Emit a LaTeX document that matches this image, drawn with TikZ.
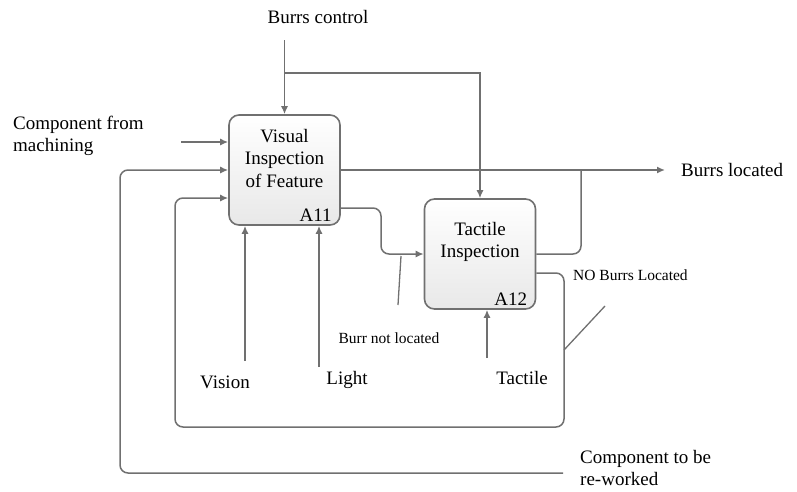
\documentclass[tikz,border=0pt]{standalone}
\usepackage{fontspec}
\setmainfont{Liberation Serif}
\usetikzlibrary{arrows.meta,calc}

\definecolor{linegray}{RGB}{112,112,112}

\begin{document}
\begin{tikzpicture}[x=1pt,y=-1pt,
        flow/.style={draw=linegray, line width=1.5pt, rounded corners=8pt, -{Latex[length=8pt,width=7pt]}},
        wire/.style={draw=linegray, line width=1.5pt, rounded corners=8pt},
        tie/.style={draw=linegray, line width=1.3pt},
        procbox/.style={draw=linegray, line width=1.6pt, rounded corners=10pt,
            minimum width=111pt, minimum height=110pt, top color=white, bottom color=black!9},
        lbl/.style={font=\fontsize{19}{22.5}\selectfont, align=left, inner sep=0pt},
        small/.style={font=\fontsize{15.5}{18}\selectfont, inner sep=0pt}]

    % Rahmen
    \useasboundingbox (0,0) rectangle (797,491);

    % Aktivitaeten
    \node[procbox] (a11) at (284.5,170) {};
    \node[procbox] (a12) at (480,254) {};
    \node[lbl, align=center] (a11name) at (284.5,158) {Visual\\Inspection\\of Feature};
    \node[lbl, align=center] (a12name) at (480,242) {Tactile\\Inspection};
    \node[lbl, anchor=south east] (a11id) at ($(a11.south east)+(-9,-4)$) {A11};
    \node[lbl, anchor=south east] (a12id) at ($(a12.south east)+(-9,-4)$) {A12};

    % Steuerung
    \node[lbl] (ctl) at (318,17) {Burrs control};
    \coordinate (ctltop) at (284.5,40);
    \coordinate (split) at (284.5,73);
    \draw[flow] (ctltop) -- (a11.north);
    \draw[flow, rounded corners=0pt] (split) -| (a12.north);

    % Eingang
    \node[lbl, anchor=west] (cin) at (13,136) {Component from\\machining};
    \coordinate (cinstart) at (181,142);
    \draw[flow] (cinstart) -- (cinstart -| a11.west);

    % Ausgang
    \coordinate (outend) at (665,170);
    \coordinate (join) at (581,170);
    \node[lbl, anchor=west] (out) at (681,170) {Burrs located};
    \draw[flow] (a11.east) -- (outend);
    \draw[wire] (a12.east) -| (join);

    % A11 nach A12
    \draw[flow] ($(a11.east)+(0,38)$) -- (381,208) |- (a12.west);
    \coordinate (bnltop) at (401,256);
    \coordinate (bnlbot) at (398,305);
    \draw[tie] (bnltop) -- (bnlbot);
    \node[small] (bnl) at (389,338) {Burr not located};

    % Rueckfuehrung
    \draw[flow] ($(a12.east)+(0,19)$) -- (564,273) -- (564,427) -- (175,427) -- (175,198) -- ($(a11.west)+(0,28)$);
    \coordinate (nbllow) at (564,350);
    \coordinate (nblhigh) at (605,306);
    \draw[tie] (nbllow) -- (nblhigh);
    \node[small, anchor=west] (nbl) at (573,275) {NO Burrs Located};

    \coordinate (rwend) at (563,473);
    \draw[flow] (rwend) -- (120,473) -- (120,170) -- (a11.west);
    \node[lbl, anchor=west] (rw) at (580,468) {Component to be\\re-worked};

    % Mechanismen
    \coordinate (vis) at (245,361);
    \coordinate (lig) at (319,367);
    \coordinate (tac) at (487,358);
    \draw[flow] (vis) -- (vis |- a11.south);
    \draw[flow] (lig) -- (lig |- a11.south);
    \draw[flow] (tac) -- (tac |- a12.south);
    \node[lbl] (visname) at (225,382) {Vision};
    \node[lbl] (ligname) at (347,380) {Light};
    \node[lbl] (tacname) at (522,378) {Tactile};
\end{tikzpicture}
\end{document}
